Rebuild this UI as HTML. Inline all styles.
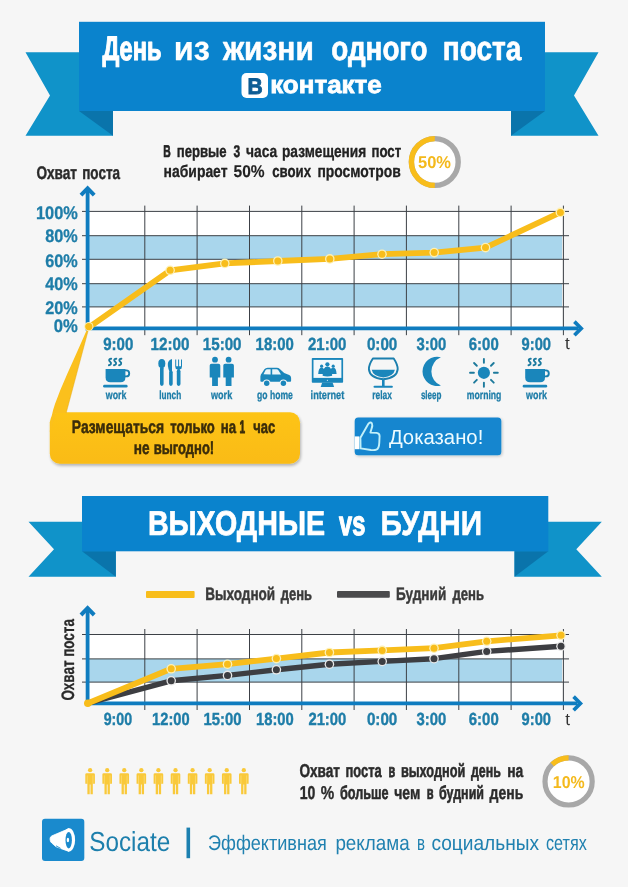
<!DOCTYPE html>
<html lang="ru"><head><meta charset="utf-8"><title>День из жизни одного поста ВКонтакте</title>
<style>html,body{margin:0;padding:0;background:#f6f6f6;}svg{display:block;font-family:"Liberation Sans", "DejaVu Sans", sans-serif;text-rendering:geometricPrecision;will-change:transform;}</style></head><body>
<svg width="628" height="887" viewBox="0 0 628 887">
<defs>
<linearGradient id="box" x1="0" y1="0" x2="0" y2="1"><stop offset="0" stop-color="#fdc417"/><stop offset="1" stop-color="#fabb12"/></linearGradient>
<filter id="sh" x="-10%" y="-20%" width="120%" height="150%"><feGaussianBlur in="SourceAlpha" stdDeviation="1.6"/><feOffset dx="1" dy="2"/><feComponentTransfer><feFuncA type="linear" slope="0.28"/></feComponentTransfer><feMerge><feMergeNode/><feMergeNode in="SourceGraphic"/></feMerge></filter>
<filter id="sh2" x="-10%" y="-20%" width="120%" height="150%"><feGaussianBlur in="SourceAlpha" stdDeviation="1.4"/><feOffset dx="0.5" dy="1.2"/><feComponentTransfer><feFuncA type="linear" slope="0.22"/></feComponentTransfer><feMerge><feMergeNode/><feMergeNode in="SourceGraphic"/></feMerge></filter>
</defs>
<rect width="628" height="887" fill="#f6f6f6"/>
<polygon points="25.5,52.2 113,52.2 113,135.7 25.5,135.7 50.0,95.5" fill="#1093c9"/>
<polygon points="511,52.2 598.5,52.2 574.0,95.5 598.5,135.7 511,135.7" fill="#1093c9"/>
<polygon points="79,111 113,111 113,135.7" fill="#0a74ab"/>
<polygon points="545,111 511,111 511,135.7" fill="#0a74ab"/>
<rect x="79" y="21.8" width="466" height="89.2" fill="#0a83cd"/>
<text y="60.2" font-size="34" font-weight="bold" fill="#ffffff" stroke="#ffffff" stroke-linejoin="round"><tspan x="102.4" textLength="59.0" lengthAdjust="spacingAndGlyphs" stroke-width="1.17">День</tspan> <tspan x="173.8" textLength="36.2" lengthAdjust="spacingAndGlyphs" stroke-width="0.25">из</tspan> <tspan x="222.9" textLength="90.9" lengthAdjust="spacingAndGlyphs" stroke-width="0.53">жизни</tspan> <tspan x="331.3" textLength="96.3" lengthAdjust="spacingAndGlyphs" stroke-width="0.74">одного</tspan> <tspan x="442.7" textLength="78.8" lengthAdjust="spacingAndGlyphs" stroke-width="0.71">поста</tspan></text>
<rect x="241.5" y="73" width="26.5" height="25" rx="5" fill="#ffffff"/>
<text x="247.4" y="93.7" font-size="22.6" font-weight="bold" fill="#0d5c94" text-anchor="start" textLength="15.2" lengthAdjust="spacingAndGlyphs" stroke="#0d5c94" stroke-width="0.9">В</text>
<text x="270.2" y="92.5" font-size="24.6" font-weight="bold" fill="#ffffff" text-anchor="start" textLength="111.6" lengthAdjust="spacingAndGlyphs" stroke="#ffffff" stroke-width="0.8">контакте</text>
<text y="156.7" font-size="17" font-weight="bold" fill="#222222" stroke="#222222" stroke-linejoin="round"><tspan x="163.2" textLength="7.5" lengthAdjust="spacingAndGlyphs" stroke-width="0.66">В</tspan> <tspan x="176.7" textLength="49.9" lengthAdjust="spacingAndGlyphs" stroke-width="0.37">первые</tspan> <tspan x="233.5" textLength="6.7" lengthAdjust="spacingAndGlyphs" stroke-width="0.49">3</tspan> <tspan x="246" textLength="31.2" lengthAdjust="spacingAndGlyphs" stroke-width="0.31">часа</tspan> <tspan x="282" textLength="84.3" lengthAdjust="spacingAndGlyphs" stroke-width="0.32">размещения</tspan> <tspan x="371.5" textLength="29.7" lengthAdjust="spacingAndGlyphs" stroke-width="0.37">пост</tspan></text>
<text y="176.8" font-size="17" font-weight="bold" fill="#222222" stroke="#222222" stroke-linejoin="round"><tspan x="163.6" textLength="63.9" lengthAdjust="spacingAndGlyphs" stroke-width="0.30">набирает</tspan> <tspan x="233.5" textLength="31.1" lengthAdjust="spacingAndGlyphs" stroke-width="0.13">50%</tspan> <tspan x="272.2" textLength="38.8" lengthAdjust="spacingAndGlyphs" stroke-width="0.37">своих</tspan> <tspan x="317.4" textLength="83.4" lengthAdjust="spacingAndGlyphs" stroke-width="0.30">просмотров</tspan></text>
<circle cx="434.8" cy="162" r="23.4" fill="#ffffff" stroke="#a8a8a8" stroke-width="5.4"/>
<path d="M434.8,138.6 A23.4,23.4 0 0 0 434.80,185.40" fill="none" stroke="#f8bd1b" stroke-width="5.4"/>
<text x="418" y="167.8" font-size="17.2" font-weight="bold" fill="#f4b91c" text-anchor="start" textLength="33" lengthAdjust="spacingAndGlyphs">50%</text>
<text y="178.8" font-size="18.4" font-weight="bold" fill="#2a2a2a" stroke="#2a2a2a" stroke-linejoin="round"><tspan x="36.4" textLength="40.6" lengthAdjust="spacingAndGlyphs" stroke-width="0.44">Охват</tspan> <tspan x="82.2" textLength="37.8" lengthAdjust="spacingAndGlyphs" stroke-width="0.45">поста</tspan></text>
<rect x="89" y="211.4" width="473" height="116.99999999999997" fill="#ffffff"/>
<rect x="89" y="235.7" width="473" height="23.600000000000023" fill="#a9d6ec"/>
<rect x="89" y="283.7" width="473" height="23.19999999999999" fill="#a9d6ec"/>
<line x1="82" y1="211.4" x2="569" y2="211.4" stroke="#3c4046" stroke-width="1"/>
<line x1="82" y1="235.7" x2="569" y2="235.7" stroke="#3c4046" stroke-width="1"/>
<line x1="82" y1="259.3" x2="569" y2="259.3" stroke="#3c4046" stroke-width="1"/>
<line x1="82" y1="283.7" x2="569" y2="283.7" stroke="#3c4046" stroke-width="1"/>
<line x1="82" y1="306.9" x2="569" y2="306.9" stroke="#3c4046" stroke-width="1"/>
<line x1="144.8" y1="205.6" x2="144.8" y2="335.2" stroke="#3c4046" stroke-width="1"/>
<line x1="197.1" y1="205.6" x2="197.1" y2="335.2" stroke="#3c4046" stroke-width="1"/>
<line x1="249.5" y1="205.6" x2="249.5" y2="335.2" stroke="#3c4046" stroke-width="1"/>
<line x1="301.8" y1="205.6" x2="301.8" y2="335.2" stroke="#3c4046" stroke-width="1"/>
<line x1="354.1" y1="205.6" x2="354.1" y2="335.2" stroke="#3c4046" stroke-width="1"/>
<line x1="406.4" y1="205.6" x2="406.4" y2="335.2" stroke="#3c4046" stroke-width="1"/>
<line x1="458.8" y1="205.6" x2="458.8" y2="335.2" stroke="#3c4046" stroke-width="1"/>
<line x1="511.1" y1="205.6" x2="511.1" y2="335.2" stroke="#3c4046" stroke-width="1"/>
<line x1="563.4" y1="205.6" x2="563.4" y2="335.2" stroke="#3c4046" stroke-width="1"/>
<line x1="87.6" y1="190.5" x2="87.6" y2="330.4" stroke="#0f7cbf" stroke-width="3.8"/>
<line x1="85.7" y1="328.4" x2="578.5" y2="328.4" stroke="#0f7cbf" stroke-width="3.8"/>
<polyline points="81.0,195.2 87.6,188.4 94.19999999999999,195.2" fill="none" stroke="#0f7cbf" stroke-width="4" stroke-linecap="butt" stroke-linejoin="miter"/>
<polyline points="574.4,321.59999999999997 581.2,328.4 574.4,335.2" fill="none" stroke="#0f7cbf" stroke-width="3.7" stroke-linecap="butt" stroke-linejoin="miter"/>
<text x="36.0" y="219.3" font-size="18.2" font-weight="bold" fill="#1e7da8" text-anchor="start" textLength="41.8" lengthAdjust="spacingAndGlyphs" stroke="#1e7da8" stroke-width="0.3">100%</text>
<text x="45.3" y="242.2" font-size="18.2" font-weight="bold" fill="#1e7da8" text-anchor="start" textLength="32.5" lengthAdjust="spacingAndGlyphs" stroke="#1e7da8" stroke-width="0.3">80%</text>
<text x="45.3" y="267" font-size="18.2" font-weight="bold" fill="#1e7da8" text-anchor="start" textLength="32.5" lengthAdjust="spacingAndGlyphs" stroke="#1e7da8" stroke-width="0.3">60%</text>
<text x="45.3" y="290.1" font-size="18.2" font-weight="bold" fill="#1e7da8" text-anchor="start" textLength="32.5" lengthAdjust="spacingAndGlyphs" stroke="#1e7da8" stroke-width="0.3">40%</text>
<text x="45.3" y="313.9" font-size="18.2" font-weight="bold" fill="#1e7da8" text-anchor="start" textLength="32.5" lengthAdjust="spacingAndGlyphs" stroke="#1e7da8" stroke-width="0.3">20%</text>
<text x="53.8" y="332.4" font-size="18.2" font-weight="bold" fill="#1e7da8" text-anchor="start" textLength="24" lengthAdjust="spacingAndGlyphs" stroke="#1e7da8" stroke-width="0.3">0%</text>
<text x="103.2" y="350.3" font-size="17.6" font-weight="bold" fill="#1e7da8" text-anchor="start" textLength="30.1" lengthAdjust="spacingAndGlyphs" stroke="#1e7da8" stroke-width="0.4">9:00</text>
<text x="150.6" y="350.3" font-size="17.6" font-weight="bold" fill="#1e7da8" text-anchor="start" textLength="38.9" lengthAdjust="spacingAndGlyphs" stroke="#1e7da8" stroke-width="0.4">12:00</text>
<text x="202.8" y="350.3" font-size="17.6" font-weight="bold" fill="#1e7da8" text-anchor="start" textLength="38.7" lengthAdjust="spacingAndGlyphs" stroke="#1e7da8" stroke-width="0.4">15:00</text>
<text x="255.6" y="350.3" font-size="17.6" font-weight="bold" fill="#1e7da8" text-anchor="start" textLength="38.2" lengthAdjust="spacingAndGlyphs" stroke="#1e7da8" stroke-width="0.4">18:00</text>
<text x="308" y="350.3" font-size="17.6" font-weight="bold" fill="#1e7da8" text-anchor="start" textLength="38.3" lengthAdjust="spacingAndGlyphs" stroke="#1e7da8" stroke-width="0.4">21:00</text>
<text x="366.9" y="350.3" font-size="17.6" font-weight="bold" fill="#1e7da8" text-anchor="start" textLength="30.4" lengthAdjust="spacingAndGlyphs" stroke="#1e7da8" stroke-width="0.4">0:00</text>
<text x="416.5" y="350.3" font-size="17.6" font-weight="bold" fill="#1e7da8" text-anchor="start" textLength="29.7" lengthAdjust="spacingAndGlyphs" stroke="#1e7da8" stroke-width="0.4">3:00</text>
<text x="468.8" y="350.3" font-size="17.6" font-weight="bold" fill="#1e7da8" text-anchor="start" textLength="29.9" lengthAdjust="spacingAndGlyphs" stroke="#1e7da8" stroke-width="0.4">6:00</text>
<text x="521.6" y="350.3" font-size="17.6" font-weight="bold" fill="#1e7da8" text-anchor="start" textLength="29.4" lengthAdjust="spacingAndGlyphs" stroke="#1e7da8" stroke-width="0.4">9:00</text>
<text x="565" y="348.6" font-size="17" font-weight="normal" fill="#333333" text-anchor="start">t</text>
<polyline points="88.5,327.6 170.1,270.3 224.8,263.4 277.8,261 329.8,258.9 382,254.2 434.2,252.6 485.5,247.6 560.4,212.4" fill="none" stroke="#f8bd1b" stroke-width="5.8" stroke-linejoin="round" stroke-linecap="round"/>
<circle cx="170.1" cy="270.3" r="4.8" fill="#fdf0b4"/><circle cx="170.1" cy="270.3" r="3.5" fill="#f8bd1b"/>
<circle cx="224.8" cy="263.4" r="4.8" fill="#fdf0b4"/><circle cx="224.8" cy="263.4" r="3.5" fill="#f8bd1b"/>
<circle cx="277.8" cy="261" r="4.8" fill="#fdf0b4"/><circle cx="277.8" cy="261" r="3.5" fill="#f8bd1b"/>
<circle cx="329.8" cy="258.9" r="4.8" fill="#fdf0b4"/><circle cx="329.8" cy="258.9" r="3.5" fill="#f8bd1b"/>
<circle cx="382" cy="254.2" r="4.8" fill="#fdf0b4"/><circle cx="382" cy="254.2" r="3.5" fill="#f8bd1b"/>
<circle cx="434.2" cy="252.6" r="4.8" fill="#fdf0b4"/><circle cx="434.2" cy="252.6" r="3.5" fill="#f8bd1b"/>
<circle cx="485.5" cy="247.6" r="4.8" fill="#fdf0b4"/><circle cx="485.5" cy="247.6" r="3.5" fill="#f8bd1b"/>
<circle cx="560.4" cy="212.4" r="4.8" fill="#fdf0b4"/><circle cx="560.4" cy="212.4" r="3.5" fill="#f8bd1b"/>
<g id="icons" fill="#1a86bb" stroke="none">
<g transform="translate(0,0)">
<path d="M111.2,358.7 C109.1,358.5 108.4,360.5 110.1,361.8 C111.8,363.1 111.0,365 108.9,365.2" fill="none" stroke="#1b7a9f" stroke-width="1.9" stroke-linecap="round"/>
<path d="M116.3,358.7 C114.2,358.5 113.5,360.5 115.2,361.8 C116.9,363.1 116.1,365 114.0,365.2" fill="none" stroke="#1b7a9f" stroke-width="1.9" stroke-linecap="round"/>
<path d="M121.4,358.7 C119.3,358.5 118.6,360.5 120.3,361.8 C122.0,363.1 121.2,365 119.1,365.2" fill="none" stroke="#1b7a9f" stroke-width="1.9" stroke-linecap="round"/>
<path d="M105.6,368.9 h19.8 v8.6 q0,4.8 -4.8,4.8 h-10.2 q-4.8,0 -4.8,-4.8 z"/>
<path d="M124.8,370.4 h1.4 a3,3 0 0 1 0,6 h-1.6" fill="none" stroke="#1b7fae" stroke-width="1.9"/>
<rect x="103.1" y="384.8" width="24.5" height="2.7" rx="1.3"/>
</g>
<ellipse cx="161.8" cy="363.5" rx="3.5" ry="4.6"/><rect x="160" y="366.5" width="3.6" height="19.4" rx="1.8"/>
<path d="M172,359 v12.4 h-2.6 q-2.4,-6 -1.2,-9.4 q1.2,-2.6 3.8,-3 z"/><rect x="169.1" y="370.4" width="3.6" height="15.5" rx="1.8"/>
<path d="M175.2,359.6 h1 v6.6 h1.9 v-6.6 h1 v6.6 h1.9 v-6.6 h1 v6.8 q0,2.6 -2.2,2.9 v1.5 h-2.4 v-1.5 q-2.2,-0.3 -2.2,-2.9 z"/><rect x="176.8" y="369.4" width="3.7" height="16.5" rx="1.8"/>
<circle cx="215.0" cy="359.7" r="2.9"/><path d="M209.7,365.6 q0,-1.8 1.8,-1.8 h7 q1.8,0 1.8,1.8 v12 h-2.4 v8.5 h-5.8 v-8.5 h-2.4 z"/>
<circle cx="228.6" cy="359.7" r="2.9"/><path d="M223.29999999999998,365.6 q0,-1.8 1.8,-1.8 h7 q1.8,0 1.8,1.8 v12 h-2.4 v8.5 h-5.8 v-8.5 h-2.4 z"/>
<path d="M260.4,381.7 v-5.2 q0.2,-2.4 1.6,-3.6 l2.4,-3.6 q1.2,-1.5 3.2,-1.5 h9.2 q1.8,0 3,1.2 l4.4,4 l5,2 q1.7,0.8 1.9,2.8 v3 q0,0.9 -0.9,0.9 h-29 q-0.8,0 -0.8,-0.8 z"/>
<path d="M263.5,374.2 l2,-4 q0.6,-1 1.8,-1 h3.3 v5.2 z M272.2,369.2 h4.3 q1,0 1.7,0.7 l2.8,4.5 h-8.8 z" fill="#eaf4f9"/>
<circle cx="266.7" cy="383.2" r="3.7" fill="#f6f6f6"/><circle cx="266.7" cy="383.2" r="2.7"/>
<circle cx="283.4" cy="383.2" r="3.7" fill="#f6f6f6"/><circle cx="283.4" cy="383.2" r="2.7"/>
<rect x="311.8" y="358" width="31.3" height="24.7" rx="0.8"/><rect x="313.5" y="359.9" width="27.9" height="18" fill="#f3f8fb"/>
<path d="M322.2,382.6 h10.4 l1.5,4.5 h-13.4 z"/><circle cx="327.4" cy="380.3" r="0.6" fill="#cfe9f5"/>
<circle cx="321.6" cy="366.2" r="1.6"/><circle cx="333.2" cy="366.2" r="1.6"/><path d="M318.2,374 q0.4,-6.4 3.4,-6.4 q3,0 3.4,6.4 z M329.8,374 q0.4,-6.4 3.4,-6.4 q3,0 3.4,6.4 z"/>
<circle cx="327.4" cy="364.3" r="2.1" /><path d="M322.6,375.8 q0.3,-9.4 4.8,-9.4 q4.5,0 4.8,9.4 q-4.8,1.4 -9.6,0 z"/>
<path d="M372.9,358.5 h20.8 q4,6 4,10.6 q-0.6,8.6 -14.4,10.2 q-13.8,-1.6 -14.4,-10.2 q0,-4.6 4,-10.6 z" fill="none" stroke="#1b7fae" stroke-width="1.9" stroke-linejoin="round"/>
<path d="M371.7,369.8 h23.2 q-1.2,6.6 -11.6,7.6 q-10.4,-1 -11.6,-7.6 z"/>
<rect x="382" y="379" width="2.6" height="7.6"/><rect x="373.5" y="385.8" width="19.4" height="2" rx="1"/>
<path d="M440.9,357.3 A14.6,14.6 0 1 0 440.9,385.5 A15.2,15.2 0 0 1 440.9,357.3 z"/>
<circle cx="483.9" cy="372.8" r="6.1"/>
<line x1="493.90" y1="372.80" x2="497.80" y2="372.80" stroke="#1d7a9c" stroke-width="1.9" stroke-linecap="round"/>
<line x1="490.97" y1="379.87" x2="493.73" y2="382.63" stroke="#1d7a9c" stroke-width="1.9" stroke-linecap="round"/>
<line x1="483.90" y1="382.80" x2="483.90" y2="386.70" stroke="#1d7a9c" stroke-width="1.9" stroke-linecap="round"/>
<line x1="476.83" y1="379.87" x2="474.07" y2="382.63" stroke="#1d7a9c" stroke-width="1.9" stroke-linecap="round"/>
<line x1="473.90" y1="372.80" x2="470.00" y2="372.80" stroke="#1d7a9c" stroke-width="1.9" stroke-linecap="round"/>
<line x1="476.83" y1="365.73" x2="474.07" y2="362.97" stroke="#1d7a9c" stroke-width="1.9" stroke-linecap="round"/>
<line x1="483.90" y1="362.80" x2="483.90" y2="358.90" stroke="#1d7a9c" stroke-width="1.9" stroke-linecap="round"/>
<line x1="490.97" y1="365.73" x2="493.73" y2="362.97" stroke="#1d7a9c" stroke-width="1.9" stroke-linecap="round"/>
<g transform="translate(419.6,0)">
<path d="M111.2,358.7 C109.1,358.5 108.4,360.5 110.1,361.8 C111.8,363.1 111.0,365 108.9,365.2" fill="none" stroke="#1b7a9f" stroke-width="1.9" stroke-linecap="round"/>
<path d="M116.3,358.7 C114.2,358.5 113.5,360.5 115.2,361.8 C116.9,363.1 116.1,365 114.0,365.2" fill="none" stroke="#1b7a9f" stroke-width="1.9" stroke-linecap="round"/>
<path d="M121.4,358.7 C119.3,358.5 118.6,360.5 120.3,361.8 C122.0,363.1 121.2,365 119.1,365.2" fill="none" stroke="#1b7a9f" stroke-width="1.9" stroke-linecap="round"/>
<path d="M105.6,368.9 h19.8 v8.6 q0,4.8 -4.8,4.8 h-10.2 q-4.8,0 -4.8,-4.8 z"/>
<path d="M124.8,370.4 h1.4 a3,3 0 0 1 0,6 h-1.6" fill="none" stroke="#1b7fae" stroke-width="1.9"/>
<rect x="103.1" y="384.8" width="24.5" height="2.7" rx="1.3"/>
</g>
</g>
<text x="105.8" y="398.6" font-size="12" font-weight="bold" fill="#1e7da8" text-anchor="start" textLength="20.6" lengthAdjust="spacingAndGlyphs" stroke="#1e7da8" stroke-width="0.3">work</text>
<text x="159.3" y="398.6" font-size="12" font-weight="bold" fill="#1e7da8" text-anchor="start" textLength="21.9" lengthAdjust="spacingAndGlyphs" stroke="#1e7da8" stroke-width="0.3">lunch</text>
<text x="211" y="398.6" font-size="12" font-weight="bold" fill="#1e7da8" text-anchor="start" textLength="21.2" lengthAdjust="spacingAndGlyphs" stroke="#1e7da8" stroke-width="0.3">work</text>
<text x="257" y="398.6" font-size="12" font-weight="bold" fill="#1e7da8" text-anchor="start" textLength="35.8" lengthAdjust="spacingAndGlyphs" stroke="#1e7da8" stroke-width="0.3">go home</text>
<text x="310.6" y="398.6" font-size="12" font-weight="bold" fill="#1e7da8" text-anchor="start" textLength="33.7" lengthAdjust="spacingAndGlyphs" stroke="#1e7da8" stroke-width="0.3">internet</text>
<text x="372.3" y="398.6" font-size="12" font-weight="bold" fill="#1e7da8" text-anchor="start" textLength="19.6" lengthAdjust="spacingAndGlyphs" stroke="#1e7da8" stroke-width="0.3">relax</text>
<text x="420.9" y="398.6" font-size="12" font-weight="bold" fill="#1e7da8" text-anchor="start" textLength="20.6" lengthAdjust="spacingAndGlyphs" stroke="#1e7da8" stroke-width="0.3">sleep</text>
<text x="466.8" y="398.6" font-size="12" font-weight="bold" fill="#1e7da8" text-anchor="start" textLength="34.6" lengthAdjust="spacingAndGlyphs" stroke="#1e7da8" stroke-width="0.3">morning</text>
<text x="526.1" y="398.6" font-size="12" font-weight="bold" fill="#1e7da8" text-anchor="start" textLength="20.9" lengthAdjust="spacingAndGlyphs" stroke="#1e7da8" stroke-width="0.3">work</text>
<g filter="url(#sh)"><rect x="49.8" y="412.3" width="250.2" height="51.4" rx="10" fill="url(#box)"/></g>
<path d="M88.8,328.2 L66.2,413 H56 L49.8,432 Q50.6,416 55,404 Q60,390 67.2,374 Q78,350 87.2,329 Z" fill="#fbc01d"/>
<path d="M88.6,329 L66.2,413" stroke="#e0a410" stroke-width="0.7" opacity="0.6" fill="none"/>
<circle cx="88.8" cy="326.6" r="4.6" fill="#fdf0b4"/><circle cx="88.8" cy="326.6" r="3.6" fill="#f8bd1b"/>
<text y="433.4" font-size="18" font-weight="bold" fill="#3a2c0a" stroke="#3a2c0a" stroke-linejoin="round"><tspan x="71.8" textLength="92.4" lengthAdjust="spacingAndGlyphs" stroke-width="0.48">Размещаться</tspan> <tspan x="170.3" textLength="44.5" lengthAdjust="spacingAndGlyphs" stroke-width="0.57">только</tspan> <tspan x="220.8" textLength="15.3" lengthAdjust="spacingAndGlyphs" stroke-width="0.56">на</tspan> <tspan x="239.6" textLength="5.6" lengthAdjust="spacingAndGlyphs" stroke-width="0.88">1</tspan> <tspan x="253.3" textLength="21.9" lengthAdjust="spacingAndGlyphs" stroke-width="0.58">час</tspan></text>
<text y="454.3" font-size="18" font-weight="bold" fill="#3a2c0a" stroke="#3a2c0a" stroke-linejoin="round"><tspan x="133.8" textLength="15.8" lengthAdjust="spacingAndGlyphs" stroke-width="0.51">не</tspan> <tspan x="153.8" textLength="60.4" lengthAdjust="spacingAndGlyphs" stroke-width="0.58">выгодно!</tspan></text>
<g filter="url(#sh2)"><rect x="354.7" y="417.6" width="146.6" height="37.6" rx="3.5" fill="#1286cf"/></g>
<rect x="354.7" y="436.4" width="4.7" height="12.8" fill="#ffffff"/>
<path d="M360.4,437.8 L368.4,423.8 Q370.4,421.4 371.9,423.4 Q372.8,425.2 371.6,428.6 L370.4,432.6 L376.6,432.9 Q379.6,433.4 379.6,436 L379.3,442.6 Q379,448.6 376.4,449.6 Q374.4,450.4 371,450 L360.6,448.4 Z" fill="none" stroke="#c2f0f9" stroke-width="1.9" stroke-linejoin="round"/>
<text x="388.9" y="444.2" font-size="20.4" font-weight="normal" fill="#eefbff" text-anchor="start" textLength="94.4" lengthAdjust="spacingAndGlyphs">Доказано!</text>
<polygon points="28.5,521.7 115.8,521.7 115.8,576.7 28.5,576.7 54.0,549.2" fill="#1093c9"/>
<polygon points="514.5,521.7 601.8,521.7 576.3,549.2 601.8,576.7 514.5,576.7" fill="#1093c9"/>
<polygon points="82,551.3 115.8,551.3 115.8,576.7" fill="#0a74ab"/>
<polygon points="548.3,551.3 514.5,551.3 514.5,576.7" fill="#0a74ab"/>
<rect x="82" y="496" width="466.29999999999995" height="55.299999999999955" fill="#0a83cd"/>
<text y="534.5" font-size="34.5" font-weight="bold" fill="#ffffff" stroke="#ffffff" stroke-linejoin="round"><tspan x="147.9" textLength="177.1" lengthAdjust="spacingAndGlyphs" stroke-width="0.73">ВЫХОДНЫЕ</tspan> <tspan x="339" textLength="26.3" lengthAdjust="spacingAndGlyphs" stroke-width="1.25">vs</tspan> <tspan x="380.4" textLength="101.6" lengthAdjust="spacingAndGlyphs" stroke-width="0.62">БУДНИ</tspan></text>
<rect x="146" y="591" width="48.6" height="7" rx="1" fill="#f8bd1b"/>
<text y="600.4" font-size="18" font-weight="bold" fill="#3a3a3a" stroke="#3a3a3a" stroke-linejoin="round"><tspan x="205.2" textLength="70.0" lengthAdjust="spacingAndGlyphs" stroke-width="0.45">Выходной</tspan> <tspan x="280.8" textLength="31.3" lengthAdjust="spacingAndGlyphs" stroke-width="0.50">день</tspan></text>
<rect x="337" y="590.9" width="52.8" height="6.9" rx="1" fill="#4a4a4c"/>
<text y="600.4" font-size="18" font-weight="bold" fill="#3a3a3a" stroke="#3a3a3a" stroke-linejoin="round"><tspan x="395.9" textLength="50.4" lengthAdjust="spacingAndGlyphs" stroke-width="0.44">Будний</tspan> <tspan x="452.4" textLength="31.6" lengthAdjust="spacingAndGlyphs" stroke-width="0.49">день</tspan></text>
<rect x="89" y="634.5" width="473" height="68.89999999999998" fill="#ffffff"/>
<rect x="89" y="658.9" width="473" height="23.200000000000045" fill="#a9d6ec"/>
<line x1="82" y1="634.5" x2="569" y2="634.5" stroke="#3c4046" stroke-width="1"/>
<line x1="82" y1="658.9" x2="569" y2="658.9" stroke="#3c4046" stroke-width="1"/>
<line x1="82" y1="682.1" x2="569" y2="682.1" stroke="#3c4046" stroke-width="1"/>
<line x1="144.8" y1="629" x2="144.8" y2="710" stroke="#3c4046" stroke-width="1"/>
<line x1="197.1" y1="629" x2="197.1" y2="710" stroke="#3c4046" stroke-width="1"/>
<line x1="249.5" y1="629" x2="249.5" y2="710" stroke="#3c4046" stroke-width="1"/>
<line x1="301.8" y1="629" x2="301.8" y2="710" stroke="#3c4046" stroke-width="1"/>
<line x1="354.1" y1="629" x2="354.1" y2="710" stroke="#3c4046" stroke-width="1"/>
<line x1="406.4" y1="629" x2="406.4" y2="710" stroke="#3c4046" stroke-width="1"/>
<line x1="458.8" y1="629" x2="458.8" y2="710" stroke="#3c4046" stroke-width="1"/>
<line x1="511.1" y1="629" x2="511.1" y2="710" stroke="#3c4046" stroke-width="1"/>
<line x1="563.4" y1="629" x2="563.4" y2="710" stroke="#3c4046" stroke-width="1"/>
<line x1="87.6" y1="610.5" x2="87.6" y2="705.4" stroke="#0f7cbf" stroke-width="3.8"/>
<line x1="85.7" y1="703.4" x2="577.5" y2="703.4" stroke="#0f7cbf" stroke-width="3.8"/>
<polyline points="81.0,615.0 87.6,608.1999999999999 94.19999999999999,615.0" fill="none" stroke="#0f7cbf" stroke-width="4" stroke-linecap="butt" stroke-linejoin="miter"/>
<polyline points="573.6,696.6 580.4000000000001,703.4 573.6,710.1999999999999" fill="none" stroke="#0f7cbf" stroke-width="3.7" stroke-linecap="butt" stroke-linejoin="miter"/>
<text transform="translate(74.4,700.6) rotate(-90)" font-size="18" font-weight="bold" fill="#2a2a2a" stroke="#2a2a2a" stroke-width="0.3" textLength="81.5" lengthAdjust="spacingAndGlyphs">Охват поста</text>
<text x="103.7" y="725" font-size="17.6" font-weight="bold" fill="#1e7da8" text-anchor="start" textLength="28.5" lengthAdjust="spacingAndGlyphs" stroke="#1e7da8" stroke-width="0.4">9:00</text>
<text x="152.1" y="725" font-size="17.6" font-weight="bold" fill="#1e7da8" text-anchor="start" textLength="37.5" lengthAdjust="spacingAndGlyphs" stroke="#1e7da8" stroke-width="0.4">12:00</text>
<text x="203.5" y="725" font-size="17.6" font-weight="bold" fill="#1e7da8" text-anchor="start" textLength="38.0" lengthAdjust="spacingAndGlyphs" stroke="#1e7da8" stroke-width="0.4">15:00</text>
<text x="256" y="725" font-size="17.6" font-weight="bold" fill="#1e7da8" text-anchor="start" textLength="37.8" lengthAdjust="spacingAndGlyphs" stroke="#1e7da8" stroke-width="0.4">18:00</text>
<text x="308.4" y="725" font-size="17.6" font-weight="bold" fill="#1e7da8" text-anchor="start" textLength="37.9" lengthAdjust="spacingAndGlyphs" stroke="#1e7da8" stroke-width="0.4">21:00</text>
<text x="366.9" y="725" font-size="17.6" font-weight="bold" fill="#1e7da8" text-anchor="start" textLength="30.4" lengthAdjust="spacingAndGlyphs" stroke="#1e7da8" stroke-width="0.4">0:00</text>
<text x="416.5" y="725" font-size="17.6" font-weight="bold" fill="#1e7da8" text-anchor="start" textLength="29.7" lengthAdjust="spacingAndGlyphs" stroke="#1e7da8" stroke-width="0.4">3:00</text>
<text x="468.8" y="725" font-size="17.6" font-weight="bold" fill="#1e7da8" text-anchor="start" textLength="29.9" lengthAdjust="spacingAndGlyphs" stroke="#1e7da8" stroke-width="0.4">6:00</text>
<text x="521.6" y="725" font-size="17.6" font-weight="bold" fill="#1e7da8" text-anchor="start" textLength="29.4" lengthAdjust="spacingAndGlyphs" stroke="#1e7da8" stroke-width="0.4">9:00</text>
<text x="565.3" y="724.8" font-size="17" font-weight="normal" fill="#333333" text-anchor="start">t</text>
<polyline points="88,703.2 171.2,680.8 227.5,675.4 276.4,669.8 329.4,664.2 382.2,661.4 434,658.7 486.7,651.4 561,646.3" fill="none" stroke="#3d3e42" stroke-width="5.4" stroke-linejoin="round" stroke-linecap="round"/>
<circle cx="171.2" cy="680.8" r="4.8" fill="#e9e9e9"/><circle cx="171.2" cy="680.8" r="3.5" fill="#3d3e42"/>
<circle cx="227.5" cy="675.4" r="4.8" fill="#e9e9e9"/><circle cx="227.5" cy="675.4" r="3.5" fill="#3d3e42"/>
<circle cx="276.4" cy="669.8" r="4.8" fill="#e9e9e9"/><circle cx="276.4" cy="669.8" r="3.5" fill="#3d3e42"/>
<circle cx="329.4" cy="664.2" r="4.8" fill="#e9e9e9"/><circle cx="329.4" cy="664.2" r="3.5" fill="#3d3e42"/>
<circle cx="382.2" cy="661.4" r="4.8" fill="#e9e9e9"/><circle cx="382.2" cy="661.4" r="3.5" fill="#3d3e42"/>
<circle cx="434" cy="658.7" r="4.8" fill="#e9e9e9"/><circle cx="434" cy="658.7" r="3.5" fill="#3d3e42"/>
<circle cx="486.7" cy="651.4" r="4.8" fill="#e9e9e9"/><circle cx="486.7" cy="651.4" r="3.5" fill="#3d3e42"/>
<circle cx="561" cy="646.3" r="4.8" fill="#e9e9e9"/><circle cx="561" cy="646.3" r="3.5" fill="#3d3e42"/>
<polyline points="88,703.2 171.2,668.8 227.5,664.2 276.4,658.6 329.4,652.5 382.2,650.4 434,648.2 486.7,641.3 561,635.3" fill="none" stroke="#f8bd1b" stroke-width="5.8" stroke-linejoin="round" stroke-linecap="round"/>
<circle cx="171.2" cy="668.8" r="4.8" fill="#fdf0b4"/><circle cx="171.2" cy="668.8" r="3.5" fill="#f8bd1b"/>
<circle cx="227.5" cy="664.2" r="4.8" fill="#fdf0b4"/><circle cx="227.5" cy="664.2" r="3.5" fill="#f8bd1b"/>
<circle cx="276.4" cy="658.6" r="4.8" fill="#fdf0b4"/><circle cx="276.4" cy="658.6" r="3.5" fill="#f8bd1b"/>
<circle cx="329.4" cy="652.5" r="4.8" fill="#fdf0b4"/><circle cx="329.4" cy="652.5" r="3.5" fill="#f8bd1b"/>
<circle cx="382.2" cy="650.4" r="4.8" fill="#fdf0b4"/><circle cx="382.2" cy="650.4" r="3.5" fill="#f8bd1b"/>
<circle cx="434" cy="648.2" r="4.8" fill="#fdf0b4"/><circle cx="434" cy="648.2" r="3.5" fill="#f8bd1b"/>
<circle cx="486.7" cy="641.3" r="4.8" fill="#fdf0b4"/><circle cx="486.7" cy="641.3" r="3.5" fill="#f8bd1b"/>
<circle cx="561" cy="635.3" r="4.8" fill="#fdf0b4"/><circle cx="561" cy="635.3" r="3.5" fill="#f8bd1b"/>
<circle cx="87.8" cy="703.2" r="3.8" fill="#f8bd1b"/>
<g fill="#f9c93a">
<circle cx="90.10" cy="770.2" r="2.15"/><path d="M85.30,774.6 q0,-1.3 1.3,-1.3 h7 q1.3,0 1.3,1.3 v9.2 h-2.1 v10.4 h-2.3 v-9.6 h-0.8 v9.6 h-2.3 v-10.4 h-2.1 z"/>
<path d="M87.25,775.4 v8.4 M92.95,775.4 v8.4" stroke="#fbe08a" stroke-width="0.6" fill="none"/>
<circle cx="107.18" cy="770.2" r="2.15"/><path d="M102.38,774.6 q0,-1.3 1.3,-1.3 h7 q1.3,0 1.3,1.3 v9.2 h-2.1 v10.4 h-2.3 v-9.6 h-0.8 v9.6 h-2.3 v-10.4 h-2.1 z"/>
<path d="M104.33,775.4 v8.4 M110.03,775.4 v8.4" stroke="#fbe08a" stroke-width="0.6" fill="none"/>
<circle cx="124.26" cy="770.2" r="2.15"/><path d="M119.46,774.6 q0,-1.3 1.3,-1.3 h7 q1.3,0 1.3,1.3 v9.2 h-2.1 v10.4 h-2.3 v-9.6 h-0.8 v9.6 h-2.3 v-10.4 h-2.1 z"/>
<path d="M121.41,775.4 v8.4 M127.11,775.4 v8.4" stroke="#fbe08a" stroke-width="0.6" fill="none"/>
<circle cx="141.34" cy="770.2" r="2.15"/><path d="M136.54,774.6 q0,-1.3 1.3,-1.3 h7 q1.3,0 1.3,1.3 v9.2 h-2.1 v10.4 h-2.3 v-9.6 h-0.8 v9.6 h-2.3 v-10.4 h-2.1 z"/>
<path d="M138.49,775.4 v8.4 M144.19,775.4 v8.4" stroke="#fbe08a" stroke-width="0.6" fill="none"/>
<circle cx="158.42" cy="770.2" r="2.15"/><path d="M153.62,774.6 q0,-1.3 1.3,-1.3 h7 q1.3,0 1.3,1.3 v9.2 h-2.1 v10.4 h-2.3 v-9.6 h-0.8 v9.6 h-2.3 v-10.4 h-2.1 z"/>
<path d="M155.57,775.4 v8.4 M161.27,775.4 v8.4" stroke="#fbe08a" stroke-width="0.6" fill="none"/>
<circle cx="175.50" cy="770.2" r="2.15"/><path d="M170.70,774.6 q0,-1.3 1.3,-1.3 h7 q1.3,0 1.3,1.3 v9.2 h-2.1 v10.4 h-2.3 v-9.6 h-0.8 v9.6 h-2.3 v-10.4 h-2.1 z"/>
<path d="M172.65,775.4 v8.4 M178.35,775.4 v8.4" stroke="#fbe08a" stroke-width="0.6" fill="none"/>
<circle cx="192.58" cy="770.2" r="2.15"/><path d="M187.78,774.6 q0,-1.3 1.3,-1.3 h7 q1.3,0 1.3,1.3 v9.2 h-2.1 v10.4 h-2.3 v-9.6 h-0.8 v9.6 h-2.3 v-10.4 h-2.1 z"/>
<path d="M189.73,775.4 v8.4 M195.43,775.4 v8.4" stroke="#fbe08a" stroke-width="0.6" fill="none"/>
<circle cx="209.66" cy="770.2" r="2.15"/><path d="M204.86,774.6 q0,-1.3 1.3,-1.3 h7 q1.3,0 1.3,1.3 v9.2 h-2.1 v10.4 h-2.3 v-9.6 h-0.8 v9.6 h-2.3 v-10.4 h-2.1 z"/>
<path d="M206.81,775.4 v8.4 M212.51,775.4 v8.4" stroke="#fbe08a" stroke-width="0.6" fill="none"/>
<circle cx="226.74" cy="770.2" r="2.15"/><path d="M221.94,774.6 q0,-1.3 1.3,-1.3 h7 q1.3,0 1.3,1.3 v9.2 h-2.1 v10.4 h-2.3 v-9.6 h-0.8 v9.6 h-2.3 v-10.4 h-2.1 z"/>
<path d="M223.89,775.4 v8.4 M229.59,775.4 v8.4" stroke="#fbe08a" stroke-width="0.6" fill="none"/>
<circle cx="243.82" cy="770.2" r="2.15"/><path d="M239.02,774.6 q0,-1.3 1.3,-1.3 h7 q1.3,0 1.3,1.3 v9.2 h-2.1 v10.4 h-2.3 v-9.6 h-0.8 v9.6 h-2.3 v-10.4 h-2.1 z"/>
<path d="M240.97,775.4 v8.4 M246.67,775.4 v8.4" stroke="#fbe08a" stroke-width="0.6" fill="none"/>
</g>
<text y="776.7" font-size="18.6" font-weight="bold" fill="#2b2b2b" stroke="#2b2b2b" stroke-linejoin="round"><tspan x="299.4" textLength="40.5" lengthAdjust="spacingAndGlyphs" stroke-width="0.48">Охват</tspan> <tspan x="345.5" textLength="36.3" lengthAdjust="spacingAndGlyphs" stroke-width="0.54">поста</tspan> <tspan x="388.6" textLength="6.7" lengthAdjust="spacingAndGlyphs" stroke-width="0.76">в</tspan> <tspan x="400.9" textLength="64.4" lengthAdjust="spacingAndGlyphs" stroke-width="0.57">выходной</tspan> <tspan x="470.9" textLength="29.9" lengthAdjust="spacingAndGlyphs" stroke-width="0.60">день</tspan> <tspan x="507.2" textLength="16.1" lengthAdjust="spacingAndGlyphs" stroke-width="0.45">на</tspan></text>
<text y="799" font-size="18.6" font-weight="bold" fill="#2b2b2b" stroke="#2b2b2b" stroke-linejoin="round"><tspan x="299.8" textLength="15.6" lengthAdjust="spacingAndGlyphs" stroke-width="0.43">10</tspan> <tspan x="320.8" textLength="13.5" lengthAdjust="spacingAndGlyphs" stroke-width="0.31">%</tspan> <tspan x="339.9" textLength="48.7" lengthAdjust="spacingAndGlyphs" stroke-width="0.57">больше</tspan> <tspan x="394.2" textLength="26.2" lengthAdjust="spacingAndGlyphs" stroke-width="0.43">чем</tspan> <tspan x="426.7" textLength="6.8" lengthAdjust="spacingAndGlyphs" stroke-width="0.74">в</tspan> <tspan x="439" textLength="45" lengthAdjust="spacingAndGlyphs" stroke-width="0.59">будний</tspan> <tspan x="489.6" textLength="33.7" lengthAdjust="spacingAndGlyphs" stroke-width="0.44">день</tspan></text>
<circle cx="568.6" cy="781.4" r="23.6" fill="#ffffff" stroke="#a8a8a8" stroke-width="5.2"/>
<path d="M568.6,757.8 A23.6,23.6 0 0 0 552.23,764.40" fill="none" stroke="#f8bd1b" stroke-width="5.2"/>
<text x="552.8" y="787.9" font-size="17.2" font-weight="bold" fill="#f4b91c" text-anchor="start" textLength="31.9" lengthAdjust="spacingAndGlyphs">10%</text>
<rect x="42" y="818.8" width="42.3" height="42.2" rx="3" fill="#1a8acd"/>
<path d="M50,839 q0,-2.4 2,-3.2 l17,-7.2 v22.8 l-6.4,-2.2 l-6.8,-2.6 l-3.8,-3.4 q-2,-1.2 -2,-4.2 z" fill="#ffffff" stroke="#ffffff" stroke-width="0.8" stroke-linejoin="round"/>
<ellipse cx="69.1" cy="839.9" rx="6" ry="11.6" fill="#ffffff"/><ellipse cx="68.7" cy="840.2" rx="3.2" ry="8.3" fill="#1a8acd"/><ellipse cx="67.9" cy="840" rx="1.2" ry="2.3" fill="#ffffff"/>
<path d="M56.4,846 l3.9,2.2" stroke="#1a8acd" stroke-width="0.9" stroke-linecap="round" fill="none"/>
<text x="89.2" y="850.6" font-size="27.5" font-weight="normal" fill="#1d7fac" text-anchor="start" textLength="81" lengthAdjust="spacingAndGlyphs">Sociate</text>
<rect x="186.5" y="827.6" width="3.6" height="30.6" fill="#1c80b0"/>
<text y="850" font-size="21" font-weight="normal" fill="#2081b0"><tspan x="208" textLength="118.8" lengthAdjust="spacingAndGlyphs">Эффективная</tspan> <tspan x="335.4" textLength="74.3" lengthAdjust="spacingAndGlyphs">реклама</tspan> <tspan x="417" textLength="8" lengthAdjust="spacingAndGlyphs">в</tspan> <tspan x="431.4" textLength="107.6" lengthAdjust="spacingAndGlyphs">социальных</tspan> <tspan x="546" textLength="40.8" lengthAdjust="spacingAndGlyphs">сетях</tspan></text>
</svg></body></html>
